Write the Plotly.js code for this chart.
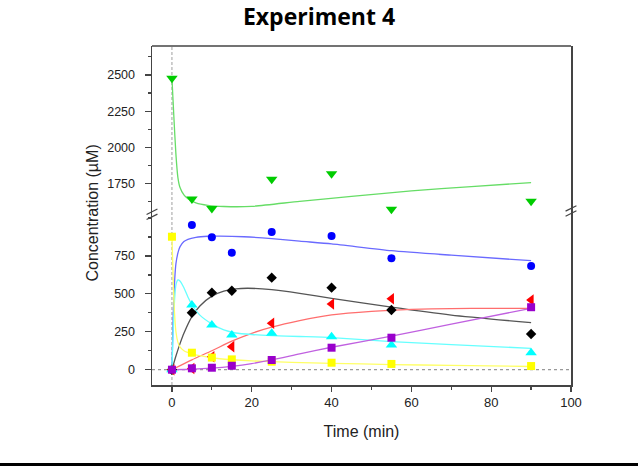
<!DOCTYPE html>
<html>
<head>
<meta charset="utf-8">
<script src="https://cdn.plot.ly/plotly-3.0.1.min.js"></script>
<style>html,body{margin:0;padding:0;background:#fff;}#chart{width:638px;height:468px;}</style>
</head>
<body>
<div id="chart"></div>
<script>
// Measured time points (min)
const timePts = [0, 5, 10, 15, 25, 40, 55, 90];

// Measured concentrations (µM)
const greenPts  = [2477, 1644, 1578, null, 1780, 1819, 1573, 1628];
const bluePts   = [0, 954, 873, 772, 908, 882, 735, 684];
const blackPts  = [0, 376, 508, 521, 607, 541, 394, 235];
const redPts    = [0, 8, 86, 152, 306, 433, 468, 460];
const cyanPts   = [0, 427, 295, 229, 240, 218, 163, 112];
const yellowPts = [877, 112, 80, 68, 53, 46, 38, 24];
const purplePts = [0, 9, 13, 26, 64, 145, 211, 412];

// Fitted curves
const greenFitT  = [0, 0.5, 1, 1.5, 2, 3, 4, 6, 9, 13, 20, 32, 45, 60, 75, 90];
const greenFitV  = [2477, 2200, 1950, 1790, 1725, 1672, 1645, 1617, 1600, 1592, 1593, 1628, 1662, 1700, 1730, 1757];
const blueFitT   = [0, 0.3, 0.7, 1, 1.5, 2, 3, 4, 6, 9, 12, 18, 25, 32, 40, 55, 70, 90];
const blueFitV   = [0, 350, 600, 700, 770, 810, 845, 860, 873, 880, 881, 877, 865, 848, 830, 785, 755, 719];
const blackFitT  = [0, 1, 2, 3, 5, 7, 10, 13, 16, 19, 25, 32, 40, 55, 70, 90];
const blackFitV  = [0, 90, 170, 240, 350, 420, 485, 518, 533, 537, 528, 504, 471, 412, 360, 310];
const redFitT    = [0, 5, 10, 15, 20, 25, 32, 40, 50, 60, 70, 80, 90];
const redFitV    = [0, 65, 125, 188, 240, 280, 323, 361, 385, 398, 403, 405, 405];
const cyanFitT   = [0, 0.3, 0.7, 1, 1.5, 2, 3, 4, 5, 7, 10, 13, 16, 20, 25, 32, 40, 55, 70, 90];
const cyanFitV   = [0, 250, 480, 560, 592, 585, 540, 480, 430, 360, 302, 262, 242, 232, 225, 219, 212, 185, 165, 141];
const yellowFitT = [0, 0.2, 0.5, 1, 1.5, 2, 3, 5, 8, 12, 20, 30, 40, 55, 70, 90];
const yellowFitV = [877, 700, 450, 250, 180, 150, 125, 105, 88, 72, 58, 48, 42, 34, 28, 21];
const purpleFitT = [0, 5, 10, 15, 20, 25, 32, 40, 55, 70, 90];
const purpleFitV = [0, 3, 10, 22, 40, 64, 104, 148, 222, 300, 405];

const xTicks = [0, 20, 40, 60, 80, 100];
const yTicksLow = [0, 250, 500, 750];
const yTicksHigh = [1750, 2000, 2250, 2500];

function fit(t, v, color, axis) {
  return {x: t, y: v, yaxis: axis, mode: 'lines', type: 'scatter', hoverinfo: 'skip',
          line: {color: color, width: 1.3, shape: 'spline', smoothing: 0.6}, showlegend: false};
}
function pts(v, color, symbol, size, axis) {
  return {x: timePts, y: v, yaxis: axis, mode: 'markers', type: 'scatter', cliponaxis: false,
          marker: {color: color, symbol: symbol, size: size, line: {width: 0}}, showlegend: false};
}

const data = [
  fit(greenFitT, greenFitV, '#66dd66', 'y2'),
  fit(blueFitT, blueFitV, '#6a6aff', 'y'),
  fit(blackFitT, blackFitV, '#555555', 'y'),
  fit(redFitT, redFitV, '#ff6e6e', 'y'),
  fit(cyanFitT, cyanFitV, '#66ffff', 'y'),
  fit(yellowFitT, yellowFitV, '#ffff66', 'y'),
  fit(purpleFitT, purpleFitV, '#c060e0', 'y'),
  pts(greenPts, '#00cc00', 'triangle-down', 10, 'y2'),
  pts(bluePts, '#0000ff', 'circle', 8, 'y'),
  pts(blackPts, '#000000', 'diamond', 8, 'y'),
  pts(redPts, '#ff0000', 'triangle-left', 10, 'y'),
  pts(cyanPts, '#00ffff', 'triangle-up', 10, 'y'),
  pts(yellowPts, '#ffff00', 'square', 8, 'y'),
  pts(purplePts, '#9900cc', 'square', 8, 'y')
];

const axCol = '#444444';
const yTickFont = {family: 'Liberation Sans, Arial, sans-serif', size: 12.5, color: '#222'};
const xTickFont = {family: 'Liberation Sans, Arial, sans-serif', size: 13, color: '#222'};

const layout = {
  width: 638, height: 468,
  margin: {l: 152, r: 67, t: 46, b: 83},
  paper_bgcolor: '#fff', plot_bgcolor: '#fff',
  title: {text: 'Experiment 4', font: {family: 'Open Sans, Lato, sans-serif', size: 23, weight: 'bold', color: '#000'},
          x: 0.5, xref: 'container', y: 0.963, yref: 'container', yanchor: 'middle'},
  xaxis: {range: [-5, 100], tickmode: 'array', tickvals: xTicks, ticks: 'outside', ticklen: 5, tickwidth: 1.2,
          tickcolor: axCol, showline: true, linecolor: axCol, linewidth: 1.5, showgrid: false, zeroline: false,
          minor: {tickmode: 'linear', tick0: 0, dtick: 10, ticklen: 3, tickcolor: axCol, ticks: 'outside'},
          tickfont: xTickFont, anchor: 'y',
          title: {text: 'Time (min)', font: {family: 'Liberation Sans, Arial, sans-serif', size: 16, color: '#222'}, standoff: 16}},
  yaxis: {domain: [0, 0.5], range: [-101, 1017], tickmode: 'array', tickvals: yTicksLow, ticks: 'outside', ticklen: 6,
          tickwidth: 1.2, tickcolor: axCol, showline: true, mirror: true, linecolor: axCol, linewidth: 1.5,
          showgrid: false, zeroline: false, tickfont: yTickFont, ticklabelstandoff: 7,
          minor: {tickmode: 'linear', tick0: 0, dtick: 125, ticklen: 3, tickcolor: axCol, ticks: 'outside'}},
  yaxis2: {domain: [0.5, 1], range: [1530, 2700], tickmode: 'array', tickvals: yTicksHigh, ticks: 'outside', ticklen: 6,
          tickwidth: 1.2, tickcolor: axCol, showline: true, mirror: true, linecolor: axCol, linewidth: 1.5,
          showgrid: false, zeroline: false, tickfont: yTickFont, anchor: 'x', ticklabelstandoff: 7,
          minor: {tickmode: 'linear', tick0: 1500, dtick: 125, ticklen: 3, tickcolor: axCol, ticks: 'outside'}},
  shapes: [
    {type: 'line', xref: 'x', yref: 'paper', x0: 0, x1: 0, y0: 0, y1: 1, line: {color: '#888', width: 0.8, dash: '3px,2px'}, layer: 'below'},
    {type: 'line', xref: 'paper', yref: 'y', x0: 0, x1: 1, y0: 0, y1: 0, line: {color: '#999', width: 1.2, dash: 'dot'}, layer: 'below'},
    {type: 'line', xref: 'paper', yref: 'paper', x0: 0, x1: 1, y0: 1, y1: 1, line: {color: axCol, width: 1.5}},
    {type: 'line', xref: 'paper', yref: 'paper', x0: -0.013, x1: 0.013, y0: 0.503, y1: 0.519, line: {color: axCol, width: 1.2}},
    {type: 'line', xref: 'paper', yref: 'paper', x0: -0.013, x1: 0.013, y0: 0.488, y1: 0.504, line: {color: axCol, width: 1.2}},
    {type: 'line', xref: 'paper', yref: 'paper', x0: 0.987, x1: 1.013, y0: 0.513, y1: 0.529, line: {color: axCol, width: 1.2}},
    {type: 'line', xref: 'paper', yref: 'paper', x0: 0.987, x1: 1.013, y0: 0.498, y1: 0.514, line: {color: axCol, width: 1.2}},
    {type: 'line', xref: 'paper', yref: 'paper', x0: -0.37, x1: 1.17, y0: -0.2345, y1: -0.2345, line: {color: '#000', width: 3}}
  ],
  annotations: [
    {text: 'Concentration (µM)', xref: 'paper', yref: 'paper', x: -0.143, y: 0.506, textangle: -90, showarrow: false,
     xanchor: 'center', yanchor: 'middle', font: {family: 'Liberation Sans, Arial, sans-serif', size: 16, color: '#222'}}
  ]
};

Plotly.newPlot('chart', data, layout, {displayModeBar: false, staticPlot: true});
</script>
</body>
</html>
